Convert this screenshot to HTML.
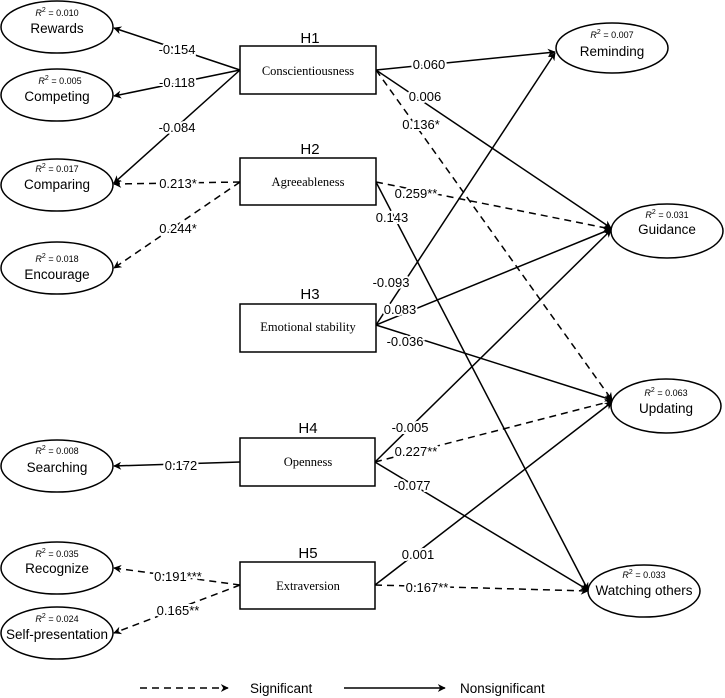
<!DOCTYPE html>
<html><head><meta charset="utf-8"><style>
html,body{margin:0;padding:0;background:#fff}
svg{display:block}
text{font-family:"Liberation Sans",Arial,sans-serif;fill:#000}
.lbl{font-size:13px}
.ser{font-family:"Liberation Serif",serif;font-size:12.5px}
.h{font-size:15px}
.r2{font-size:9px}
.nm{font-size:13.5px}
</style></head><body>
<svg width="725" height="698" viewBox="0 0 725 698" xmlns="http://www.w3.org/2000/svg">
<defs>
<marker id="a" viewBox="0 0 10 10" refX="9" refY="5" markerWidth="8" markerHeight="8" orient="auto" markerUnits="userSpaceOnUse">
<path d="M0,0 L10,5 L0,10 L3,5 z" fill="#000"/></marker>
<marker id="o" viewBox="0 0 10 10" refX="9" refY="5" markerWidth="9" markerHeight="9" orient="auto" markerUnits="userSpaceOnUse">
<path d="M0,0 L10,5 L0,10" fill="none" stroke="#000" stroke-width="1.6"/></marker>
</defs>
<g stroke="#000" stroke-width="1.5" fill="none">
<!-- left side -->
<line x1="240" y1="70" x2="114" y2="28" marker-end="url(#a)"/>
<line x1="240" y1="70" x2="114" y2="96" marker-end="url(#a)"/>
<line x1="240" y1="70" x2="114" y2="183" marker-end="url(#a)"/>
<line x1="240" y1="182" x2="114" y2="184" stroke-dasharray="7,5" marker-end="url(#a)"/>
<line x1="240" y1="182" x2="114" y2="268" stroke-dasharray="7,5" marker-end="url(#a)"/>
<line x1="240" y1="462" x2="114" y2="466" marker-end="url(#a)"/>
<line x1="240" y1="585" x2="114" y2="568" stroke-dasharray="7,5" marker-end="url(#a)"/>
<line x1="240" y1="585" x2="114" y2="633" stroke-dasharray="7,5" marker-end="url(#a)"/>
<!-- right side -->
<line x1="376" y1="70" x2="555" y2="52" marker-end="url(#a)"/>
<line x1="376" y1="70" x2="611" y2="228" marker-end="url(#a)"/>
<line x1="376" y1="70" x2="612" y2="400" stroke-dasharray="7,5" marker-end="url(#a)"/>
<line x1="376" y1="182" x2="611" y2="229" stroke-dasharray="7,5" marker-end="url(#a)"/>
<line x1="376" y1="182" x2="588" y2="590" marker-end="url(#a)"/>
<line x1="376" y1="325" x2="555" y2="53" marker-end="url(#a)"/>
<line x1="376" y1="325" x2="611" y2="229" marker-end="url(#a)"/>
<line x1="376" y1="325" x2="612" y2="400" marker-end="url(#a)"/>
<line x1="375" y1="462" x2="611" y2="230" marker-end="url(#a)"/>
<line x1="375" y1="462" x2="612" y2="401" stroke-dasharray="7,5" marker-end="url(#a)"/>
<line x1="375" y1="462" x2="588" y2="590" marker-end="url(#a)"/>
<line x1="375" y1="585" x2="612" y2="402" marker-end="url(#a)"/>
<line x1="375" y1="585" x2="588" y2="591" stroke-dasharray="7,5" marker-end="url(#a)"/>
<!-- legend -->
<line x1="140" y1="688" x2="228" y2="688" stroke-dasharray="7,5" marker-end="url(#a)"/>
<line x1="344" y1="688" x2="445" y2="688" marker-end="url(#a)"/>
</g>
<g stroke="#000" stroke-width="1.5" fill="#fff">
<rect x="240" y="46" width="136" height="48"/>
<rect x="240" y="158" width="136" height="47"/>
<rect x="240" y="304" width="136" height="48"/>
<rect x="240" y="438" width="135" height="48"/>
<rect x="240" y="562" width="135" height="47"/>
<ellipse cx="57" cy="27" rx="56" ry="26"/>
<ellipse cx="57" cy="95" rx="56" ry="26"/>
<ellipse cx="57" cy="185" rx="56" ry="26"/>
<ellipse cx="57" cy="268" rx="56" ry="26"/>
<ellipse cx="57" cy="466" rx="56" ry="26"/>
<ellipse cx="57" cy="568" rx="56" ry="26"/>
<ellipse cx="57" cy="633" rx="56" ry="26"/>
<ellipse cx="612" cy="48" rx="56" ry="25"/>
<ellipse cx="667" cy="231" rx="56" ry="27"/>
<ellipse cx="666" cy="406" rx="55" ry="27"/>
<ellipse cx="644" cy="591" rx="56" ry="26"/>
</g>
<g text-anchor="middle">
<text class="h" x="310" y="43">H1</text>
<text class="h" x="310" y="154">H2</text>
<text class="h" x="310" y="299">H3</text>
<text class="h" x="308" y="433">H4</text>
<text class="h" x="308" y="558">H5</text>
<text class="ser" x="308" y="75">Conscientiousness</text>
<text class="ser" x="308" y="186">Agreeableness</text>
<text class="ser" x="308" y="331">Emotional stability</text>
<text class="ser" x="308" y="466">Openness</text>
<text class="ser" x="308" y="590">Extraversion</text>
<text class="r2" x="57" y="16"><tspan font-style="italic">R</tspan><tspan dy="-4" font-size="7">2</tspan><tspan dy="4"> = 0.010</tspan></text>
<text class="nm" x="57" y="33">Rewards</text>
<text class="r2" x="60" y="84"><tspan font-style="italic">R</tspan><tspan dy="-4" font-size="7">2</tspan><tspan dy="4"> = 0.005</tspan></text>
<text class="nm" x="57" y="101">Competing</text>
<text class="r2" x="57" y="172"><tspan font-style="italic">R</tspan><tspan dy="-4" font-size="7">2</tspan><tspan dy="4"> = 0.017</tspan></text>
<text class="nm" x="57" y="189">Comparing</text>
<text class="r2" x="57" y="262"><tspan font-style="italic">R</tspan><tspan dy="-4" font-size="7">2</tspan><tspan dy="4"> = 0.018</tspan></text>
<text class="nm" x="57" y="279">Encourage</text>
<text class="r2" x="57" y="454"><tspan font-style="italic">R</tspan><tspan dy="-4" font-size="7">2</tspan><tspan dy="4"> = 0.008</tspan></text>
<text class="nm" x="57" y="472">Searching</text>
<text class="r2" x="57" y="557"><tspan font-style="italic">R</tspan><tspan dy="-4" font-size="7">2</tspan><tspan dy="4"> = 0.035</tspan></text>
<text class="nm" x="57" y="573">Recognize</text>
<text class="r2" x="57" y="622"><tspan font-style="italic">R</tspan><tspan dy="-4" font-size="7">2</tspan><tspan dy="4"> = 0.024</tspan></text>
<text class="nm" x="57" y="639">Self-presentation</text>
<text class="r2" x="612" y="38"><tspan font-style="italic">R</tspan><tspan dy="-4" font-size="7">2</tspan><tspan dy="4"> = 0.007</tspan></text>
<text class="nm" x="612" y="56">Reminding</text>
<text class="r2" x="667" y="218"><tspan font-style="italic">R</tspan><tspan dy="-4" font-size="7">2</tspan><tspan dy="4"> = 0.031</tspan></text>
<text class="nm" x="667" y="234">Guidance</text>
<text class="r2" x="666" y="396"><tspan font-style="italic">R</tspan><tspan dy="-4" font-size="7">2</tspan><tspan dy="4"> = 0.063</tspan></text>
<text class="nm" x="666" y="413">Updating</text>
<text class="r2" x="644" y="578"><tspan font-style="italic">R</tspan><tspan dy="-4" font-size="7">2</tspan><tspan dy="4"> = 0.033</tspan></text>
<text class="nm" x="644" y="595">Watching others</text>
</g>
<g class="lbl" text-anchor="middle" stroke="#fff" stroke-width="4" paint-order="stroke">
<text x="177" y="54">-0.154</text>
<text x="177" y="87">-0.118</text>
<text x="177" y="132">-0.084</text>
<text x="178" y="188">0.213*</text>
<text x="178" y="233">0.244*</text>
<text x="181" y="470">0.172</text>
<text x="178" y="581">0.191***</text>
<text x="178" y="615">0.165**</text>
<text x="429" y="69">0.060</text>
<text x="425" y="101">0.006</text>
<text x="421" y="129">0.136*</text>
<text x="416" y="198">0.259**</text>
<text x="392" y="222">0.143</text>
<text x="391" y="287">-0.093</text>
<text x="400" y="314">0.083</text>
<text x="405" y="346">-0.036</text>
<text x="410" y="432">-0.005</text>
<text x="416" y="456">0.227**</text>
<text x="412" y="490">-0.077</text>
<text x="418" y="559">0.001</text>
<text x="427" y="592">0.167**</text>
</g>
<text class="nm" x="250" y="693">Significant</text>
<text class="nm" x="460" y="693">Nonsignificant</text>
</svg>
</body></html>
